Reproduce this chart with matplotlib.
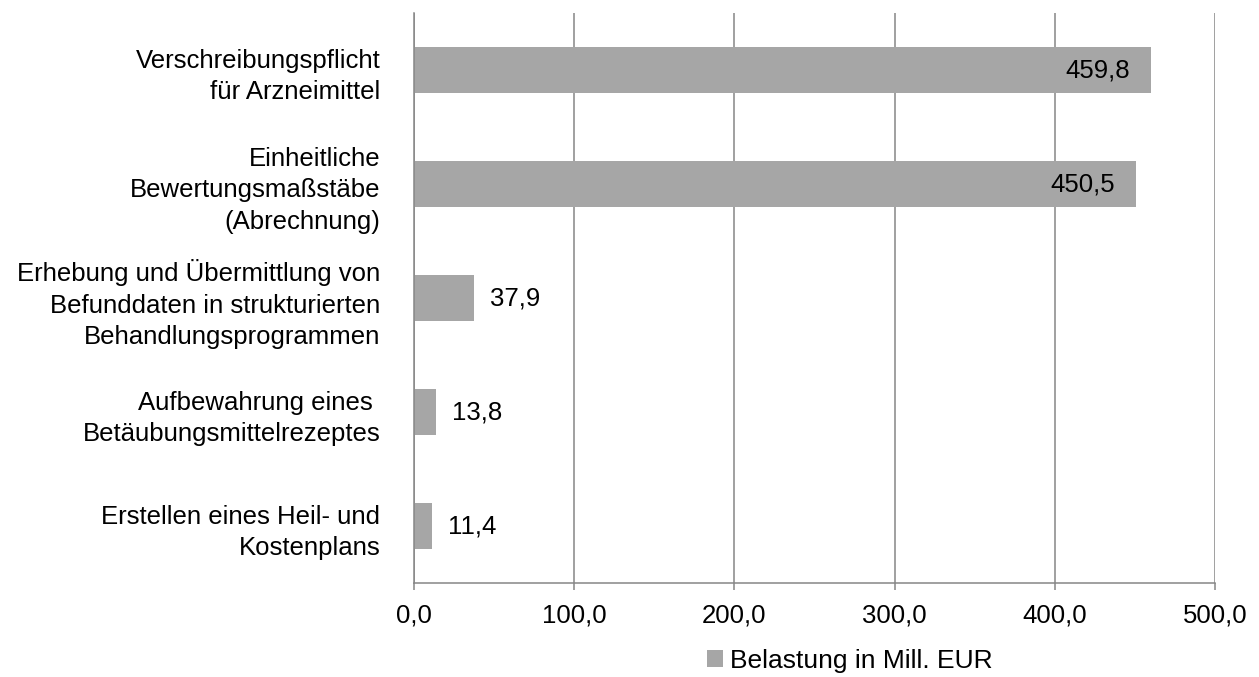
import numpy as np
import matplotlib.pyplot as plt

plt.rcParams['font.family'] = ['Liberation Sans', 'DejaVu Sans']

# categories top to bottom, values in Mill. EUR
categories = [
    "Verschreibungspflicht\nfür Arzneimittel",
    "Einheitliche\nBewertungsmaßstäbe\n(Abrechnung)",
    "Erhebung und Übermittlung von\nBefunddaten in strukturierten\nBehandlungsprogrammen",
    "Aufbewahrung eines \nBetäubungsmittelrezeptes",
    "Erstellen eines Heil- und\nKostenplans",
]
values = [459.8, 450.5, 37.9, 13.8, 11.4]
xticks = [0, 100, 200, 300, 400, 500]
series_name = "Belastung in Mill. EUR"

bar_color = "#a6a6a6"
grid_color = "#868686"
fs = 18.5

fig = plt.figure(figsize=(12.59, 6.77), dpi=100)
ax = fig.add_axes([0.3286, 0.1388, 0.9651 - 0.3286, 0.9808 - 0.1388])

y = np.arange(len(categories))[::-1]
bars = ax.barh(y, values, height=0.4, color=bar_color, label=series_name, zorder=2)

ax.set_xlim(0, 500)
ax.set_ylim(-0.5, len(categories) - 0.5)
ax.set_xticks(xticks)
ax.set_xticklabels([f"{v:.1f}".replace(".", ",") for v in xticks], fontsize=fs)
ax.set_yticks(y)
ax.set_yticklabels(categories, fontsize=fs, linespacing=1.4)

ax.grid(axis="x", color=grid_color, linewidth=1.1, zorder=0)
for s in ["top", "right"]:
    ax.spines[s].set_visible(False)
for s in ["left", "bottom"]:
    ax.spines[s].set_color(grid_color)
    ax.spines[s].set_linewidth(1.1)
ax.tick_params(axis="y", length=0, pad=24)
ax.tick_params(axis="x", length=5, width=1.1, color=grid_color, pad=10)

# value labels: inside the long bars, outside the short ones
for yi, v in zip(y, values):
    txt = f"{v:.1f}".replace(".", ",")
    if v > 250:
        ax.annotate(txt, (v, yi), xytext=(-15, 0), textcoords="offset points",
                    ha="right", va="center", fontsize=fs)
    else:
        ax.annotate(txt, (v, yi), xytext=(11.5, 0), textcoords="offset points",
                    ha="left", va="center", fontsize=fs)

fig.legend(handles=[bars], labels=[series_name], loc="center",
           bbox_to_anchor=(850 / 1259, 1 - 661 / 677), frameon=False,
           fontsize=19, handlelength=0.6, handleheight=0.6, handletextpad=0.25,
           borderpad=0)

fig.savefig("out.png", dpi=100)
